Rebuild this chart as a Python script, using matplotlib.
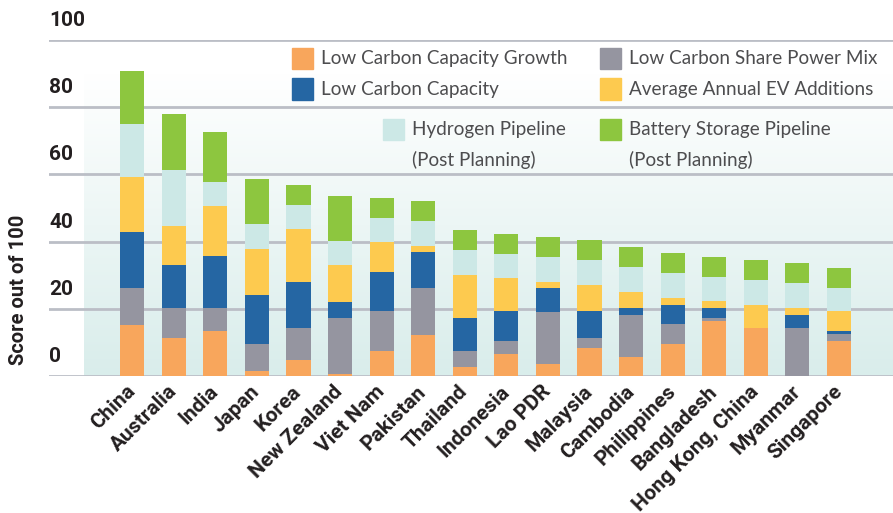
import numpy as np
import matplotlib
matplotlib.use("Agg")
import matplotlib.pyplot as plt
from matplotlib.patches import Rectangle

plt.rcParams['font.family'] = ['Lato', 'DejaVu Sans']
BOLD = ['Roboto', 'DejaVu Sans']

# 1) data (score out of 100, stacked)
countries = ['China', 'Australia', 'India', 'Japan', 'Korea', 'New Zealand',
             'Viet Nam', 'Pakistan', 'Thailand', 'Indonesia', 'Lao PDR',
             'Malaysia', 'Cambodia', 'Philippines', 'Bangladesh',
             'Hong Kong, China', 'Myanmar', 'Singapore']
cap_growth = [15.2, 11.3, 13.4, 1.5, 4.8, 0.6, 7.4, 12.2, 2.7, 6.5, 3.6, 8.3,
              5.7, 9.5, 16.4, 14.3, 0.0, 10.4]
share_mix = [11.0, 8.9, 6.8, 8.0, 9.5, 16.7, 11.9, 14.0, 4.7, 3.9, 15.4, 3.0,
             12.5, 6.0, 0.9, 0.0, 14.3, 2.1]
capacity = [16.7, 12.8, 15.5, 14.6, 13.7, 4.7, 11.7, 10.7, 9.9, 8.9, 7.2, 8.0,
            2.0, 5.6, 2.9, 0.0, 3.9, 0.9]
ev_adds = [16.3, 11.6, 14.9, 13.7, 15.8, 11.0, 8.9, 1.9, 12.8, 9.9, 1.8, 7.8,
           4.8, 2.1, 2.1, 6.8, 2.0, 5.9]
hydrogen = [15.8, 16.7, 7.1, 7.4, 7.1, 7.2, 7.1, 7.3, 7.4, 7.1, 7.4, 7.4,
            7.4, 7.5, 7.2, 7.5, 7.5, 6.9]
battery = [15.8, 16.7, 14.9, 13.4, 5.9, 13.4, 5.9, 6.0, 6.0, 6.0, 6.0, 6.0,
           6.0, 5.9, 5.9, 5.9, 5.9, 5.9]
y_ticks = [0, 20, 40, 60, 80, 100]

series = [cap_growth, share_mix, capacity, ev_adds, hydrogen, battery]
colors = ['#F8A65C', '#9595A0', '#2566A3', '#FDCA4F', '#CCE8E6', '#8DC63F']
names = ['Low Carbon Capacity Growth', 'Low Carbon Share Power Mix',
         'Low Carbon Capacity', 'Average Annual EV Additions',
         'Hydrogen Pipeline', 'Battery Storage Pipeline']

W, H = 893, 513
fig = plt.figure(figsize=(W / 100, H / 100), dpi=100)
ax = fig.add_axes([49 / W, 1 - 376 / H, 844 / W, 336 / H])

x = np.arange(len(countries))
x_left, x_right = -2.0, len(countries) - 1 + 1.3

# 2) soft teal gradient background
grad = np.linspace(0, 1, 256)[:, None]
c0 = np.array([0xD9, 0xED, 0xEB]) / 255
c1 = np.array([1.0, 1.0, 1.0])
img = c0 + (c1 - c0) * grad[..., None]
ax.imshow(img, extent=(-1.15, x_right, 0, 90), origin='lower',
          aspect='auto', zorder=0)

for v in y_ticks:
    ax.axhline(v, color='#BBBEC6', lw=2, zorder=1)

# 3) stacked bars
bottom = np.zeros(len(countries))
for vals, col in zip(series, colors):
    vals = np.array(vals)
    ax.bar(x, vals, width=0.58, bottom=bottom, color=col, zorder=2)
    bottom += vals

ax.set_xlim(x_left, x_right)
ax.set_ylim(0, 100)
for s in ax.spines.values():
    s.set_visible(False)
ax.set_yticks([])
ax.set_xticks(x)
ax.set_xticklabels(countries, rotation=45, ha='right', va='center',
                   rotation_mode='anchor', fontweight='bold', fontsize=15,
                   family=BOLD, color='#231F20')
ax.tick_params(axis='x', length=0, pad=9)

# y labels sit above their gridlines
for v in y_ticks:
    ax.annotate(str(v), xy=(0, v), xycoords=('axes fraction', 'data'),
                xytext=(0, 14), textcoords='offset points', ha='left',
                va='center', fontweight='bold', fontsize=15, family=BOLD,
                color='#231F20')

fig.text(19 / W, 1 - 290 / H, 'Score out of 100', rotation=90, ha='center',
         va='center', fontweight='bold', fontsize=14.5, family=BOLD,
         color='#231F20')

# 4) legend drawn by hand
def legend_item(px, py, color, lines):
    fig.patches.append(Rectangle((px / W, 1 - (py + 10.5) / H), 21 / W, 21 / H,
                                 transform=fig.transFigure, color=color))
    for i, t in enumerate(lines):
        fig.text((px + 29) / W, 1 - (py + i * 30) / H, t, ha='left',
                 va='center', fontsize=13.6, color='#4D4D4F')

legend_item(292, 58.5, colors[0], [names[0]])
legend_item(600, 58.5, colors[1], [names[1]])
legend_item(292, 89, colors[2], [names[2]])
legend_item(600, 89, colors[3], [names[3]])
legend_item(383, 129.5, colors[4], [names[4], '(Post Planning)'])
legend_item(600, 129.5, colors[5], [names[5], '(Post Planning)'])

plt.savefig('out.png', dpi=100)
